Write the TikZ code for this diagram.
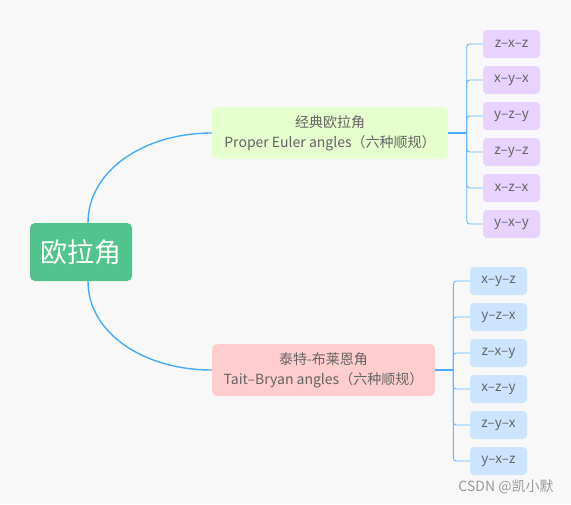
\documentclass[tikz,border=0pt]{standalone}
\usepackage{fontspec}
\setmainfont{Noto Sans CJK SC}
\usetikzlibrary{positioning}
\definecolor{bgpaper}{RGB}{248,248,248}
\definecolor{rootgreen}{RGB}{80,196,140}
\definecolor{eulerfill}{RGB}{230,255,206}
\definecolor{taitfill}{RGB}{255,205,205}
\definecolor{purplefill}{RGB}{232,210,255}
\definecolor{bluefill}{RGB}{205,228,255}
\definecolor{linkblue}{RGB}{70,170,255}
\definecolor{txtgrey}{RGB}{100,100,100}

\begin{document}
\begin{tikzpicture}[x=1pt,y=-1pt,node distance=7.6pt,
  every node/.style={font=\fontsize{14}{20}\selectfont,text=txtgrey},
  rootbox/.style={fill=rootgreen,rounded corners=5pt,minimum width=102pt,minimum height=58pt,
                  text=white,font=\fontsize{27}{30}\selectfont},
  branch/.style={rounded corners=5pt,minimum height=52pt,inner sep=3pt,align=center},
  leaf/.style={rounded corners=4pt,minimum width=57pt,minimum height=28pt,inner sep=2pt,
               font=\fontsize{13.5}{15}\selectfont},
  link/.style={draw=linkblue,line width=1.4pt},
  twig/.style={draw=linkblue!85,line width=0.9pt,rounded corners=3pt}]
\fill[bgpaper] (0,0) rectangle (571,504);
\node[rootbox] (root) at (81,252) {欧拉角};
\node[branch,fill=eulerfill,minimum width=236pt] (euler) at (330,133)
  {经典欧拉角\\Proper Euler angles（六种顺规）};
\node[branch,fill=taitfill,minimum width=223pt] (tait) at (323.5,370)
  {泰特-布莱恩角\\Tait–Bryan angles（六种顺规）};
% proper Euler sequences
\node[leaf,fill=purplefill] (e1) at (511.5,44) {z–x–z};
\node[leaf,fill=purplefill,below=of e1] (e2) {x–y–x};
\node[leaf,fill=purplefill,below=of e2] (e3) {y–z–y};
\node[leaf,fill=purplefill,below=of e3] (e4) {z–y–z};
\node[leaf,fill=purplefill,below=of e4] (e5) {x–z–x};
\node[leaf,fill=purplefill,below=of e5] (e6) {y–x–y};
% Tait-Bryan sequences
\node[leaf,fill=bluefill] (t1) at (498.5,281) {x–y–z};
\node[leaf,fill=bluefill,below=of t1] (t2) {y–z–x};
\node[leaf,fill=bluefill,below=of t2] (t3) {z–x–y};
\node[leaf,fill=bluefill,below=of t3] (t4) {x–z–y};
\node[leaf,fill=bluefill,below=of t4] (t5) {z–y–x};
\node[leaf,fill=bluefill,below=of t5] (t6) {y–x–z};
\coordinate (jE) at (466.7,133);
\coordinate (jT) at (453.3,370);
\draw[link] ([xshift=7pt]root.north) .. controls +(0,-52) and +(-68,0) .. (euler.west);
\draw[link] ([xshift=7pt]root.south) .. controls +(0,52) and +(-68,0) .. (tait.west);
\draw[link] (euler.east) -- (jE);
\draw[link] (tait.east) -- (jT);
\draw[twig] (jE) |- (e1.west); \draw[twig] (jE) |- (e2.west); \draw[twig] (jE) |- (e3.west);
\draw[twig] (jE) |- (e4.west); \draw[twig] (jE) |- (e5.west); \draw[twig] (jE) |- (e6.west);
\draw[twig] (jT) |- (t1.west); \draw[twig] (jT) |- (t2.west); \draw[twig] (jT) |- (t3.west);
\draw[twig] (jT) |- (t4.west); \draw[twig] (jT) |- (t5.west); \draw[twig] (jT) |- (t6.west);
\node[text=black!40] (mark) at (506,487) {CSDN @凯小默};
\end{tikzpicture}
\end{document}
